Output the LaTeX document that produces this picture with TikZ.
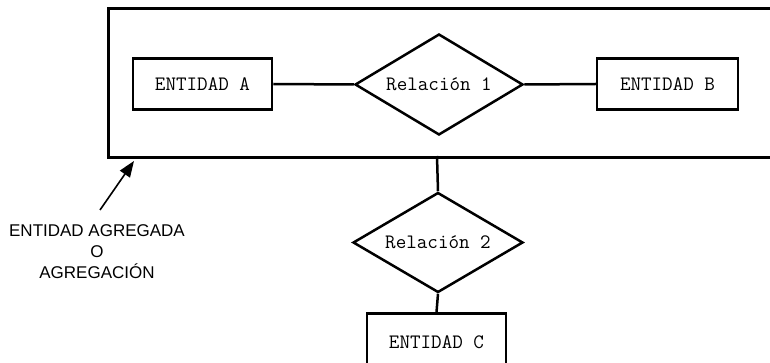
\documentclass[tikz,border=0pt]{standalone}
\usepackage{fontspec}
\setmainfont{Liberation Sans}
\usetikzlibrary{shapes.geometric,arrows.meta}
\begin{document}
\begin{tikzpicture}[x=1pt,y=-1pt,
  monotext/.style={font=\ttfamily\fontsize{20.5}{23}\selectfont},
  ent/.style={draw,line width=2.5pt,minimum width=139pt,minimum height=51pt,inner sep=0pt,monotext},
  rel/.style={draw,diamond,aspect=1.7,line width=2.5pt,inner sep=0pt,minimum width=168pt,minimum height=101pt,monotext},
  conn/.style={line width=2.5pt},
  lbl/.style={align=center,font=\fontsize{17}{21}\selectfont}]
\useasboundingbox (0,0) rectangle (770,363);
\clip (0,0) rectangle (770,363);
\fill[white] (0,0) rectangle (770,363);
% aggregate entity box (extends beyond right edge)
\node[draw,line width=2.7pt,minimum width=700pt,minimum height=149pt,inner sep=0pt,anchor=north west] (agg) at (107,7) {};
\node[ent] (ea) at (202.5,84) {ENTIDAD A};
\node[rel] (r1) at (439,84.5) {Relación 1};
\node[ent,minimum width=141pt] (eb) at (667.5,84) {ENTIDAD B};
\node[rel,minimum width=170pt,minimum height=100pt] (r2) at (438,242.5) {Relación 2};
\node[ent] (ec) at (436.5,339) {};
\node[monotext] (ect) at (436.5,342) {ENTIDAD C};
\coordinate (aggb) at (437,156);
\draw[conn] (ea.east) -- (r1.west);
\draw[conn] (r1.east) -- (eb.west);
\draw[conn] (aggb) -- (r2.north);
\draw[conn] (r2.south) -- (ec.north);
\node[lbl] (lab) at (97,252) {ENTIDAD AGREGADA\\O\\AGREGACIÓN};
\coordinate (tail) at (100,210);
\coordinate (tip) at (134,161);
\draw[line width=1.6pt,-{Triangle[length=16pt,width=12pt]}] (tail) -- (tip);
\end{tikzpicture}
\end{document}
